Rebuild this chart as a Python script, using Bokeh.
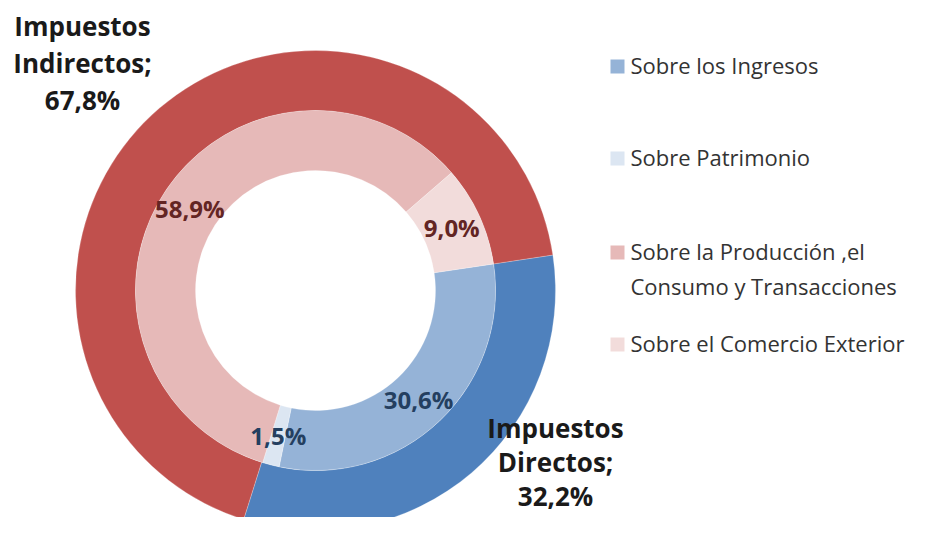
import math
from bokeh.plotting import figure
from bokeh.models import Range1d
from bokeh.core.properties import value
from bokeh.embed import file_html
from bokeh.resources import INLINE

# ---------------- data ----------------
outer_categories = ["Impuestos Directos", "Impuestos Indirectos"]
outer_values = [32.2, 67.8]
outer_colors = ["#4F81BD", "#C0504D"]

inner_categories = ["Sobre los Ingresos", "Sobre Patrimonio",
                    "Sobre la Producción ,el\nConsumo y Transacciones",
                    "Sobre el Comercio Exterior"]
inner_values = [30.6, 1.5, 58.9, 9.0]
inner_colors = ["#95B3D7", "#DCE6F2", "#E6B9B8", "#F2DCDB"]
inner_label_colors = ["#243F60", "#243F60", "#632523", "#632523"]

outer_label_lines = [["Impuestos", "Directos;", "32,2%"],
                     ["Impuestos", "Indirectos;", "67,8%"]]

# ---------------- layout ----------------
W, H = 910, 517


def Y(py):
    return H - py


CX, CY = 315, Y(290)
R_OUT, R_MID, R_IN = 240, 180, 120
START = 8.5  # degrees, first slice start (counter-clockwise from 3 o'clock)

p = figure(width=W, height=H, output_backend="svg", toolbar_location=None,
           x_range=Range1d(0, W), y_range=Range1d(0, H),
           min_border=0)
p.axis.visible = False
p.grid.visible = False
p.outline_line_color = None
p.background_fill_color = "white"
p.border_fill_color = "white"


def ring(values, r0, r1, colors):
    starts, ends = [], []
    cum = 0.0
    total = sum(values)
    for v in values:
        starts.append(math.radians(START - cum / total * 360))
        cum += v
        ends.append(math.radians(START - cum / total * 360))
    p.annular_wedge(x=[CX] * len(values), y=[CY] * len(values),
                    inner_radius=r0, outer_radius=r1,
                    start_angle=starts, end_angle=ends, direction="clock",
                    fill_color=colors, line_color="white", line_width=0.4,
                    line_alpha=0.6)
    return [(s + e) / 2 for s, e in zip(starts, ends)]


ring(outer_values, R_MID, R_OUT, outer_colors)
mids = ring(inner_values, R_IN, R_MID, inner_colors)

# inner data labels
rl = (R_IN + R_MID) / 2
p.text(x=[CX + rl * math.cos(a) for a in mids],
       y=[CY + rl * math.sin(a) for a in mids],
       text=[f"{v:.1f}".replace(".", ",") + "%" for v in inner_values],
       text_color=inner_label_colors, text_font=value("Open Sans"),
       text_font_style="bold", text_font_size="24px",
       text_align="center", text_baseline="middle")

# outer data labels (placed outside the ring)
outer_anchor = [(555, 427, 34), (82, 25, 37)]
for (ax, ay, step), lines in zip(outer_anchor, outer_label_lines):
    p.text(x=[ax] * len(lines), y=[Y(ay + i * step) for i in range(len(lines))],
           text=lines, text_color="#1a1a1a", text_font=value("Open Sans"),
           text_font_style="bold", text_font_size="26px",
           text_align="center", text_baseline="middle")

# legend
leg_rows = [64, 156, 250, 342]
LEG_LINE = 35
for cat, col, ry in zip(inner_categories, inner_colors, leg_rows):
    p.rect(x=[617], y=[Y(ry + 2)], width=14, height=14,
           fill_color=col, line_color=None)
    lines = cat.split("\n")
    p.text(x=[630] * len(lines), y=[Y(ry + i * LEG_LINE) for i in range(len(lines))],
           text=lines, text_color="#333333", text_font=value("Open Sans"),
           text_font_size="22px", text_align="left", text_baseline="middle")

open("out.html", "w").write(file_html(p, INLINE))
